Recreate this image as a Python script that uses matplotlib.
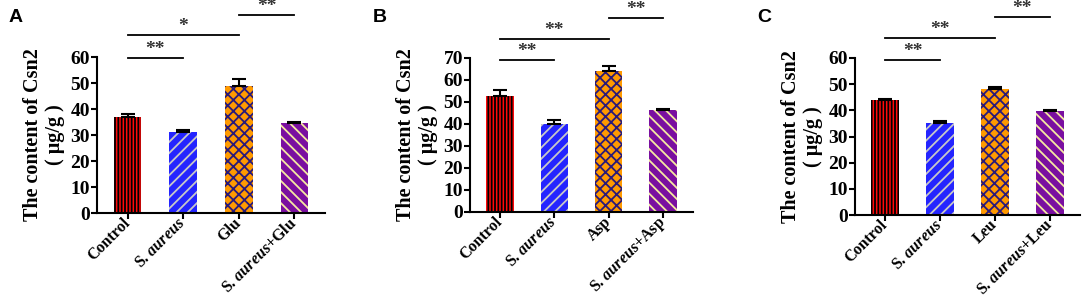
import numpy as np
import matplotlib
matplotlib.use("Agg")
import matplotlib.pyplot as plt
from matplotlib.transforms import ScaledTranslation

# data
groups_a = ["Control", "S. $\\mathit{aureus}$", "Glu", "S. $\\mathit{aureus}$+Glu"]
groups_b = ["Control", "S. $\\mathit{aureus}$", "Asp", "S. $\\mathit{aureus}$+Asp"]
groups_c = ["Control", "S. $\\mathit{aureus}$", "Leu", "S. $\\mathit{aureus}$+Leu"]

csn2_a = [37.0, 31.3, 48.7, 34.5]
err_a = [1.0, 0.6, 2.8, 0.6]
csn2_b = [52.5, 40.2, 64.2, 46.2]
err_b = [3.0, 1.8, 2.2, 0.6]
csn2_c = [44.0, 35.3, 48.2, 39.8]
err_c = [0.4, 0.8, 0.8, 0.3]

# significance brackets: (from bar, to bar, height, label)
sig_a = [(0, 1, 59.6, "**"), (0, 2, 68.5, "*"), (2, 3, 76.2, "**")]
sig_b = [(0, 1, 69.1, "**"), (0, 2, 78.6, "**"), (2, 3, 88.2, "**")]
sig_c = [(0, 1, 59.2, "**"), (0, 2, 67.6, "**"), (2, 3, 75.7, "**")]

ymax_a, ymax_b, ymax_c = 60, 70, 60

face = ["#ff0a0a", "#2424ff", "#ff9a00", "#7a0fa0"]
hatch_col = ["#000000", "#c8c8c8", "#2a1a7a", "#f5e9a0"]
hatches = ["|||||", "///", "xxx", "\\\\\\"]

plt.rcParams["font.family"] = "Liberation Serif"
plt.rcParams["font.weight"] = "bold"
plt.rcParams["mathtext.fontset"] = "custom"
plt.rcParams["mathtext.it"] = "Liberation Serif:italic:bold"
plt.rcParams["mathtext.rm"] = "Liberation Serif:bold"
plt.rcParams["hatch.linewidth"] = 1.3

fig = plt.figure(figsize=(10.84, 3.02), dpi=100)


def draw_panel(rect, labels, vals, errs, sigs, ymax, letter, letter_xy):
    ax = fig.add_axes(rect)
    x = np.arange(len(vals))
    for i in x:
        ax.bar(i, vals[i], width=0.5, color=face[i], edgecolor=hatch_col[i],
               hatch=hatches[i], linewidth=0, zorder=2)
    ax.errorbar(x, vals, yerr=[np.zeros(len(errs)), errs], fmt="none",
                ecolor="black", elinewidth=1.5, capsize=5, capthick=1.5, zorder=3)
    ax.set_xlim(-0.55, 3.55)
    ax.set_ylim(0, ymax)
    ax.set_yticks(np.arange(0, ymax + 1, 10))
    ax.set_xticks(x)
    ax.set_xticklabels(labels, rotation=45, ha="right", va="center",
                       rotation_mode="anchor", fontsize=11.5, fontweight="bold")
    # nudge the rotated labels a little to the right of their ticks
    shift = ScaledTranslation(4 / 100, 0, fig.dpi_scale_trans)
    for lab in ax.get_xticklabels():
        lab.set_transform(lab.get_transform() + shift)
    ax.tick_params(axis="y", labelsize=14, width=1.5, length=4, pad=1)
    ax.tick_params(axis="x", width=1.5, length=4, pad=1.5)
    for s in ["top", "right"]:
        ax.spines[s].set_visible(False)
    for s in ["left", "bottom"]:
        ax.spines[s].set_linewidth(1.5)
    ax.set_ylabel("The content of Csn2\n( μg/g )", fontsize=14.5,
                  fontweight="bold", labelpad=4, linespacing=1.15)
    for a, b, h, txt in sigs:
        ax.plot([a, b], [h, h], color="black", lw=1.3, clip_on=False)
        ax.text((a + b) / 2, h, txt, ha="center", va="bottom", fontsize=14,
                color="#333333", clip_on=False)
    fig.text(letter_xy[0], letter_xy[1], letter, fontsize=14, fontweight="bold",
             family="Liberation Sans", ha="left", va="top")
    return ax


draw_panel([97 / 1084, 89 / 302, 228 / 1084, 156 / 302], groups_a, csn2_a, err_a,
           sig_a, ymax_a, "A", (9 / 1084, 1 - 9 / 302))
draw_panel([470 / 1084, 90 / 302, 223 / 1084, 154 / 302], groups_b, csn2_b, err_b,
           sig_b, ymax_b, "B", (373 / 1084, 1 - 9 / 302))
draw_panel([855 / 1084, 87 / 302, 225 / 1084, 157 / 302], groups_c, csn2_c, err_c,
           sig_c, ymax_c, "C", (757 / 1084, 1 - 9 / 302))

fig.savefig("out.png", dpi=100)
